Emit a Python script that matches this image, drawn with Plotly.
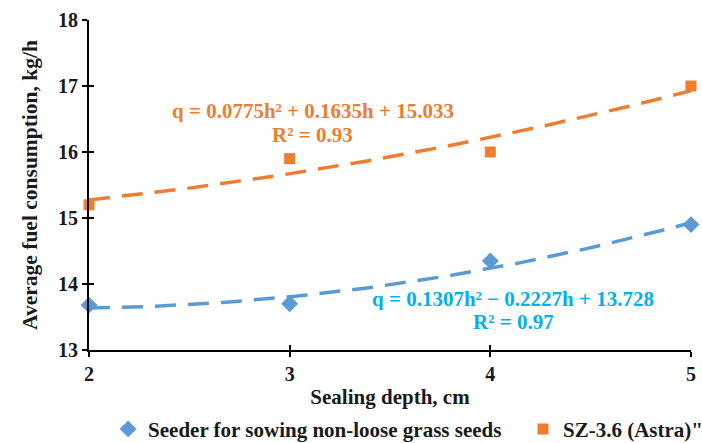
import numpy as np
import plotly.graph_objects as go

depth = [2, 3, 4, 5]
seeder = [13.68, 13.70, 14.35, 14.90]
astra = [15.20, 15.90, 16.00, 17.00]
seeder_coef = [0.1307, -0.2227, 13.728]
astra_coef = [0.0775, 0.1635, 15.033]
names = ["Seeder for sowing non-loose grass seeds", "SZ-3.6 (Astra)\""]
eq_seeder = ["q = 0.1307h² − 0.2227h + 13.728", "R² = 0.97"]
eq_astra = ["q = 0.0775h² + 0.1635h + 15.033", "R² = 0.93"]

BLUE = "#5B9BD5"
ORANGE = "#ED7D31"
CYAN = "#00B0F0"
FONT = "Liberation Serif"
TXT = "#1a1a1a"

h = np.linspace(1, 4, 100)
xs = h + 1
trend_s = np.polyval(seeder_coef, h)
trend_a = np.polyval(astra_coef, h)

fig = go.Figure()
fig.add_trace(go.Scatter(x=xs, y=trend_s, mode="lines", showlegend=False,
                         line=dict(color=BLUE, width=3.5, dash="21px,12px"), hoverinfo="skip"))
fig.add_trace(go.Scatter(x=xs, y=trend_a, mode="lines", showlegend=False,
                         line=dict(color=ORANGE, width=3.5, dash="21px,12px"), hoverinfo="skip"))
fig.add_trace(go.Scatter(x=depth, y=seeder, mode="markers", name=names[0], legend="legend",
                         marker=dict(symbol="diamond", size=13, color=BLUE), cliponaxis=False))
fig.add_trace(go.Scatter(x=depth, y=astra, mode="markers", name=names[1], legend="legend2",
                         marker=dict(symbol="square", size=11, color=ORANGE), cliponaxis=False))
# overlay axes for inside ticks (ticks cross the axis line)
fig.add_trace(go.Scatter(x=[2], y=[13], xaxis="x2", yaxis="y2", mode="markers",
                         marker=dict(opacity=0), showlegend=False, hoverinfo="skip"))

ann_font = dict(family=FONT, size=21, weight="bold")
for txt, (ax, ay) in zip(eq_astra, [(3.116, 16.62), (3.116, 16.258)]):
    fig.add_annotation(x=ax, y=ay, xref="x", yref="y", text=txt, showarrow=False, height=22,
                       font=dict(color=ORANGE, **ann_font), yanchor="middle", valign="middle")
for txt, (ax, ay) in zip(eq_seeder, [(4.113, 13.77), (4.113, 13.42)]):
    fig.add_annotation(x=ax, y=ay, xref="x", yref="y", text=txt, showarrow=False, height=22,
                       font=dict(color=CYAN, **ann_font), yanchor="middle", valign="middle")

axis_common = dict(showgrid=False, zeroline=False, showline=True, linecolor="black", linewidth=2,
                   ticks="outside", ticklen=5, tickwidth=2, tickcolor="black", automargin=False,
                   tickfont=dict(family=FONT, size=20, color=TXT, weight="bold"))
overlay_common = dict(showgrid=False, zeroline=False, showline=False, automargin=False,
                      ticks="inside", ticklen=5, tickwidth=2, tickcolor="black", showticklabels=False)
leg_font = dict(family=FONT, size=21, color=TXT, weight="bold")
fig.update_layout(
    width=702, height=443,
    margin=dict(l=89, r=11, t=20, b=93),
    paper_bgcolor="white", plot_bgcolor="white",
    font=dict(family=FONT, color=TXT),
    xaxis=dict(range=[2, 5], dtick=1, title=dict(text="Sealing depth, cm", standoff=8,
               font=dict(family=FONT, size=21, color=TXT, weight="bold")), **axis_common),
    yaxis=dict(range=[13, 18], dtick=1, title=dict(text="Average fuel consumption, kg/h", standoff=14,
               font=dict(family=FONT, size=21.5, color=TXT, weight="bold")), **axis_common),
    xaxis2=dict(overlaying="x", range=[2, 5], dtick=1, side="bottom", anchor="y", **overlay_common),
    yaxis2=dict(overlaying="y", range=[13, 18], dtick=1, side="left", anchor="x", **overlay_common),
    legend=dict(orientation="h", xref="container", yref="container", x=0.154, y=0.031,
                xanchor="left", yanchor="middle",
                font=leg_font, itemwidth=30, bgcolor="rgba(0,0,0,0)"),
    legend2=dict(orientation="h", xref="container", yref="container", x=0.745, y=0.031,
                 xanchor="left", yanchor="middle",
                 font=leg_font, itemwidth=30, bgcolor="rgba(0,0,0,0)"),
)
fig.write_html("out.html")
